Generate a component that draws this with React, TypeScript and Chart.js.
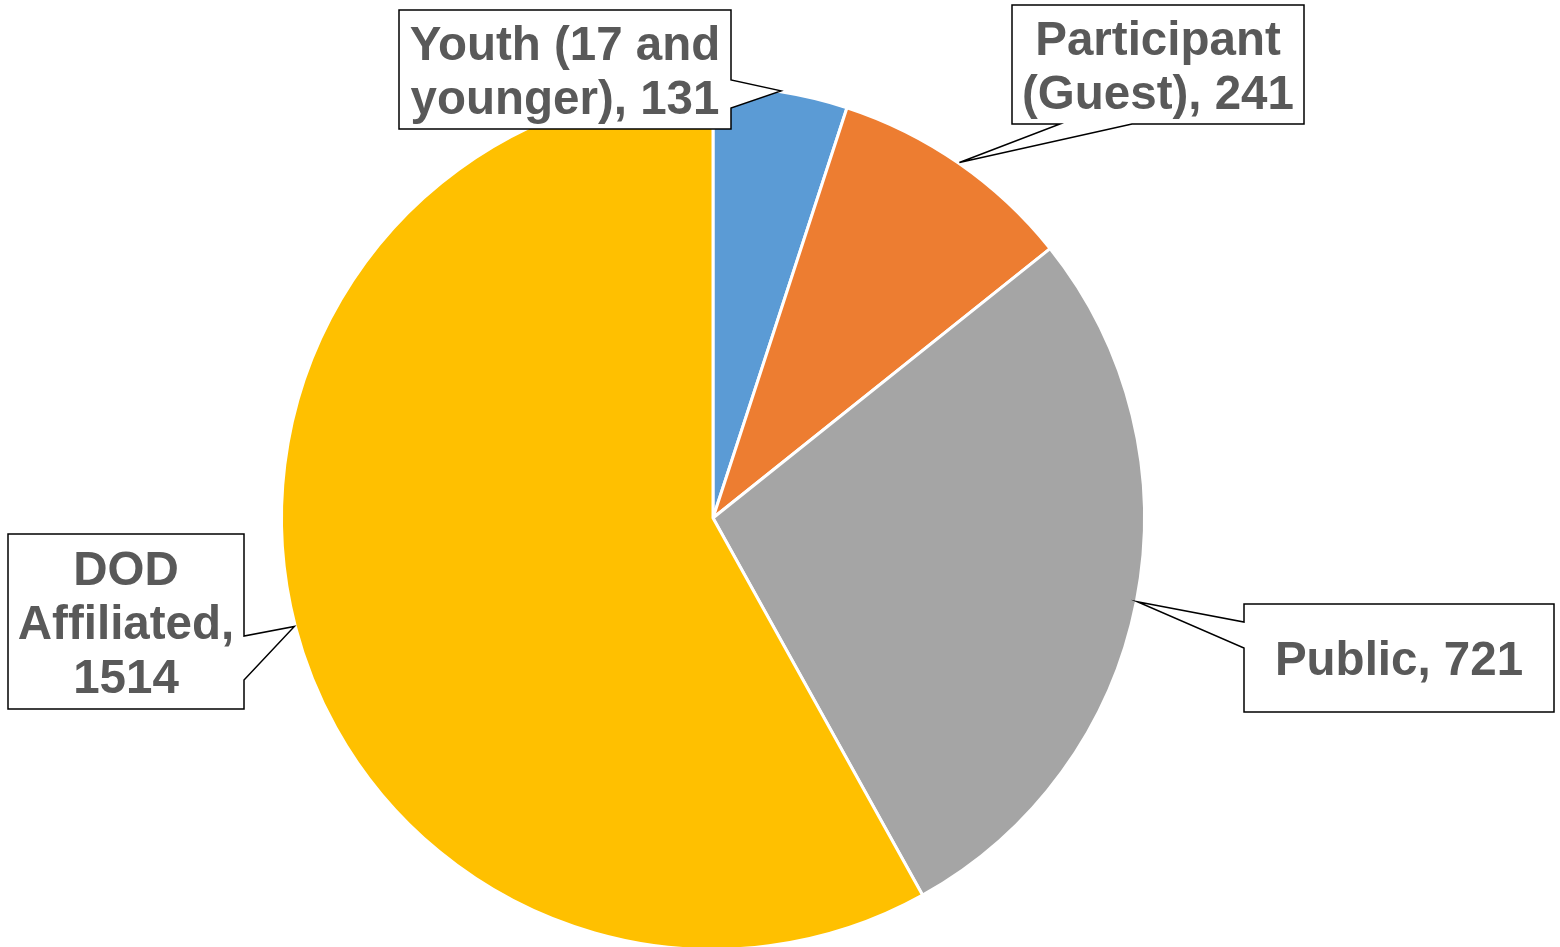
import React, { useEffect, useRef } from "react";
import { Chart, registerables } from "chart.js";

Chart.register(...registerables);

const categories = ["Youth (17 and younger)", "Participant (Guest)", "Public", "DOD Affiliated"];
const values = [131, 241, 721, 1514];
const colors = ["#5B9BD5", "#ED7D31", "#A5A5A5", "#FFC000"];

// callout box layout: box rectangle, side of the pointer, pointer base range along that side, wrap width
const callouts = [
  { x: 399, y: 10, w: 332, h: 119, side: "right", a: 80, b: 108, wrap: 325 },
  { x: 1012, y: 5, w: 292, h: 119, side: "bottom", a: 1060, b: 1132, wrap: 280 },
  { x: 1244, y: 604, w: 310, h: 108, side: "left", a: 622, b: 648, wrap: 300 },
  { x: 8, y: 534, w: 236, h: 175, side: "right", a: 636, b: 680, wrap: 228 },
];

const FONT = "bold 47.5px 'Liberation Sans', Arial, sans-serif";
const CANVAS_W = 1560;
const CANVAS_H = 960;

function wrapText(ctx: CanvasRenderingContext2D, text: string, maxW: number): string[] {
  const words = text.split(" ");
  const lines: string[] = [];
  let cur = "";
  for (const w of words) {
    const test = cur ? cur + " " + w : w;
    if (cur && ctx.measureText(test).width > maxW) {
      lines.push(cur);
      cur = w;
    } else cur = test;
  }
  if (cur) lines.push(cur);
  return lines;
}

const calloutPlugin = {
  id: "callouts",
  afterDraw(chart: any) {
    const ctx: CanvasRenderingContext2D = chart.ctx;
    const meta = chart.getDatasetMeta(0);
    ctx.save();
    ctx.font = FONT;
    meta.data.forEach((arc: any, i: number) => {
      const c = callouts[i];
      if (!c) return;
      const mid = (arc.startAngle + arc.endAngle) / 2;
      const r = arc.outerRadius + 1;
      const tx = arc.x + Math.cos(mid) * r;
      const ty = arc.y + Math.sin(mid) * r;
      const { x, y, w, h } = c;
      ctx.beginPath();
      ctx.moveTo(x, y);
      ctx.lineTo(x + w, y);
      if (c.side === "right") {
        ctx.lineTo(x + w, c.a);
        ctx.lineTo(tx, ty);
        ctx.lineTo(x + w, c.b);
      }
      ctx.lineTo(x + w, y + h);
      if (c.side === "bottom") {
        ctx.lineTo(c.b, y + h);
        ctx.lineTo(tx, ty);
        ctx.lineTo(c.a, y + h);
      }
      ctx.lineTo(x, y + h);
      if (c.side === "left") {
        ctx.lineTo(x, c.b);
        ctx.lineTo(tx, ty);
        ctx.lineTo(x, c.a);
      }
      ctx.closePath();
      ctx.fillStyle = "#FFFFFF";
      ctx.fill();
      ctx.lineWidth = 1.5;
      ctx.strokeStyle = "#000000";
      ctx.stroke();

      const text = `${categories[i]}, ${values[i]}`;
      const lines = wrapText(ctx, text, c.wrap);
      const lh = 54;
      const cy = y + h / 2 + 4;
      ctx.fillStyle = "#595959";
      ctx.textAlign = "center";
      ctx.textBaseline = "middle";
      lines.forEach((ln, k) => {
        ctx.fillText(ln, x + w / 2, cy + (k - (lines.length - 1) / 2) * lh);
      });
    });
    ctx.restore();
  },
};

export default function App() {
  const ref = useRef<HTMLCanvasElement>(null);
  useEffect(() => {
    document.body.style.margin = "0";
    document.body.style.overflow = "hidden";
    document.documentElement.style.overflow = "hidden";
    const chart = new Chart(ref.current as HTMLCanvasElement, {
      type: "pie",
      data: {
        labels: categories,
        datasets: [
          {
            data: values,
            backgroundColor: colors,
            borderColor: "#FFFFFF",
            borderWidth: 3,
          },
        ],
      },
      options: {
        responsive: false,
        animation: false,
        layout: { padding: { left: 280, right: 414, top: 85, bottom: CANVAS_H - 85 - 866 } },
        plugins: { legend: { display: false }, tooltip: { enabled: false } },
      },
      plugins: [calloutPlugin],
    });
    return () => chart.destroy();
  }, []);
  return (
    <div style={{ position: "absolute", left: 0, top: 0, width: CANVAS_W, height: CANVAS_H, background: "#fff" }}>
      <canvas ref={ref} width={CANVAS_W} height={CANVAS_H} style={{ width: CANVAS_W, height: CANVAS_H, display: "block" }} />
    </div>
  );
}
